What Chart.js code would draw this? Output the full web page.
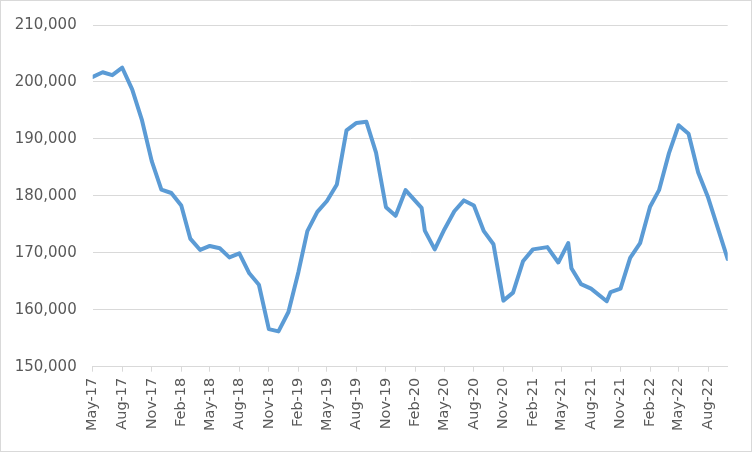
<!DOCTYPE html>
<html>
<head>
<meta charset="utf-8">
<script src="https://cdn.jsdelivr.net/npm/chart.js@4.4.0/dist/chart.umd.min.js"></script>
<style>
  html, body { margin: 0; padding: 0; background: #fff; }
  #wrap { width: 752px; height: 452px; }
</style>
</head>
<body>
<div id="wrap"><canvas id="chart" width="752" height="452"></canvas></div>
<script>
// observation dates (mostly 1st of month, a few mid-month points)
const dates = [
  "2017-05-01", "2017-06-01", "2017-07-01", "2017-08-01", "2017-09-01", "2017-10-01",
  "2017-11-01", "2017-12-01", "2018-01-01", "2018-02-01", "2018-03-01", "2018-04-01",
  "2018-05-01", "2018-06-01", "2018-07-01", "2018-08-01", "2018-09-01", "2018-10-01",
  "2018-11-01", "2018-12-01", "2019-01-01", "2019-02-01", "2019-03-01", "2019-04-01",
  "2019-05-01", "2019-06-01", "2019-07-01", "2019-08-01", "2019-09-01", "2019-10-01",
  "2019-11-01", "2019-12-01", "2020-01-01", "2020-02-20", "2020-03-01", "2020-04-01",
  "2020-05-01", "2020-06-01", "2020-07-01", "2020-08-01", "2020-09-01", "2020-10-01",
  "2020-11-01", "2020-12-01", "2021-01-01", "2021-02-01", "2021-03-18", "2021-04-21",
  "2021-05-22", "2021-06-01", "2021-07-01", "2021-08-01", "2021-09-19", "2021-10-01",
  "2021-11-01", "2021-12-01", "2022-01-01", "2022-02-01", "2022-03-01", "2022-04-01",
  "2022-05-01", "2022-06-01", "2022-07-01", "2022-08-01", "2022-09-01", "2022-10-01"
];

const values = [
  200900, 201700, 201200, 202500, 198700, 193400,
  186100, 181100, 180500, 178300, 172500, 170500,
  171200, 170800, 169200, 169900, 166400, 164400,
  156600, 156200, 159600, 166600, 173800, 177200,
  179100, 182000, 191500, 192800, 193000, 187600,
  178000, 176500, 181000, 177900, 173900, 170600,
  174100, 177300, 179200, 178300, 173800, 171500,
  161600, 163000, 168500, 170600, 171000, 168300,
  171700, 167300, 164500, 163700, 161500, 163100,
  163700, 169100, 171700, 178100, 181000, 187500,
  192400, 190900, 184100, 179700, 174200, 168900
];

const tickLabels = [
  "May-17", "Aug-17", "Nov-17", "Feb-18", "May-18", "Aug-18", "Nov-18", "Feb-19",
  "May-19", "Aug-19", "Nov-19", "Feb-20", "May-20", "Aug-20", "Nov-20", "Feb-21",
  "May-21", "Aug-21", "Nov-21", "Feb-22", "May-22", "Aug-22"
];

const axisStart = "2017-05-01";
const axisEnd = "2022-10-01";

const yMin = 150000;
const yMax = 210000;
const yStep = 10000;

const monthNames = ["Jan", "Feb", "Mar", "Apr", "May", "Jun", "Jul", "Aug", "Sep", "Oct", "Nov", "Dec"];

function dayNum(iso) {
  const p = iso.split("-").map(Number);
  return Date.UTC(p[0], p[1] - 1, p[2]) / 86400000;
}

function labelDay(label) {
  const m = monthNames.indexOf(label.slice(0, 3));
  const y = 2000 + Number(label.slice(4));
  return Date.UTC(y, m, 1) / 86400000;
}

const points = dates.map((d, i) => ({ x: dayNum(d), y: values[i] }));

const textColor = "#595959";
const gridColor = "#d9d9d9";

const borderPlugin = {
  id: "outerBorder",
  afterDraw(chart) {
    const ctx = chart.ctx;
    ctx.save();
    ctx.strokeStyle = gridColor;
    ctx.lineWidth = 1;
    ctx.strokeRect(0.5, 0.5, chart.width - 1, chart.height - 1);
    ctx.restore();
  }
};

const ctx = document.getElementById("chart").getContext("2d");

new Chart(ctx, {
  type: "line",
  data: {
    datasets: [
      {
        data: points,
        borderColor: "#5b9bd5",
        borderWidth: 4,
        borderJoinStyle: "round",
        borderCapStyle: "round",
        pointRadius: 0,
        tension: 0,
        fill: false,
      },
    ],
  },
  options: {
    responsive: false,
    animation: false,
    devicePixelRatio: 1,
    layout: {
      padding: { left: 0, top: 23.5, right: 24.3, bottom: 0 },
    },
    plugins: {
      legend: { display: false },
      tooltip: { enabled: false },
    },
    scales: {
      x: {
        type: "linear",
        min: dayNum(axisStart),
        max: dayNum(axisEnd),
        afterBuildTicks: (scale) => {
          scale.ticks = tickLabels.map((l) => ({ value: labelDay(l) }));
        },
        afterFit: (scale) => {
          scale.height = 85.3;
        },
        ticks: {
          autoSkip: false,
          minRotation: 90,
          maxRotation: 90,
          padding: 6,
          color: textColor,
          font: { family: "DejaVu Sans", size: 14.5 },
          callback: (v, i) => tickLabels[i],
        },
        grid: {
          display: true,
          drawOnChartArea: false,
          drawTicks: true,
          tickLength: 5,
          color: gridColor,
          lineWidth: 1,
        },
        border: { display: true, color: gridColor, width: 1 },
      },
      y: {
        min: yMin,
        max: yMax,
        afterFit: (scale) => {
          scale.width = 92.7;
        },
        ticks: {
          stepSize: yStep,
          padding: 16,
          color: textColor,
          font: { family: "DejaVu Sans", size: 15 },
          callback: (v) => v.toLocaleString("en-US"),
        },
        grid: {
          color: gridColor,
          lineWidth: 1,
          drawTicks: false,
        },
        border: { display: false },
      },
    },
  },
  plugins: [borderPlugin],
});
</script>
</body>
</html>
